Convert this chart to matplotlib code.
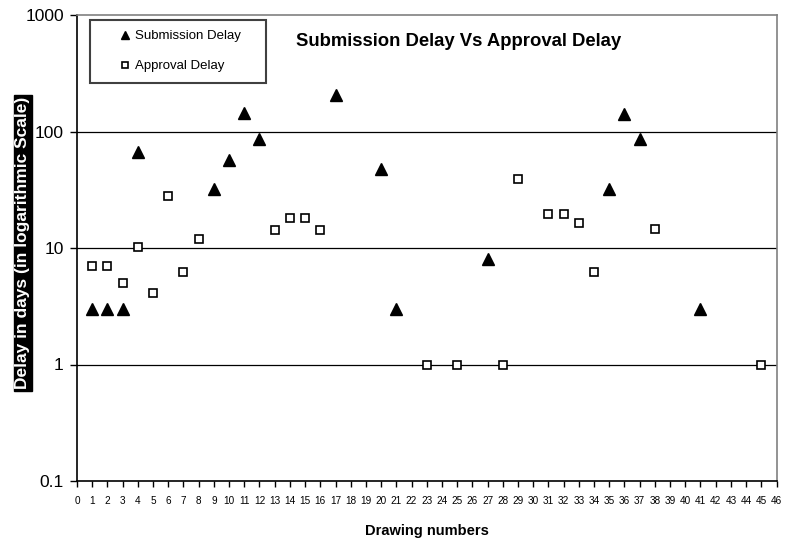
import matplotlib
matplotlib.use("Agg")
import matplotlib.pyplot as plt
from matplotlib.patches import Rectangle
from matplotlib.ticker import FixedLocator, NullLocator, FixedFormatter

plt.rcParams['font.family'] = ['Liberation Sans', 'DejaVu Sans']

sub_x = [1, 2, 3, 4, 9, 10, 11, 12, 17, 20, 21, 27, 35, 36, 37, 41]
sub_y = [3, 3, 3, 67, 32, 57, 143, 86, 206, 48, 3, 8, 32, 141, 86, 3]

app_x = [1, 2, 3, 4, 5, 6, 7, 8, 13, 14, 15, 16, 23, 25, 28, 29, 31, 32, 33, 34, 38, 45]
app_y = [7, 7, 5, 10.3, 4.1, 28, 6.2, 12, 14.3, 18.2, 18.2, 14.3, 1, 1, 1, 39, 19.5, 19.5, 16.5, 6.2, 14.5, 1]

x_ticks = list(range(0, 47))
y_ticks = [0.1, 1, 10, 100, 1000]
y_labels = ["0.1", "1", "10", "100", "1000"]

W, H = 786, 540
L, R, T, B = 77, 776.5, 15, 481

fig = plt.figure(figsize=(W / 100, H / 100), dpi=100)
ax = fig.add_axes([L / W, 1 - B / H, (R - L) / W, (B - T) / H])

def ax_x(px):
    return (px - L) / (R - L)

def ax_y(py):
    return (B - py) / (B - T)

ax.set_yscale('log')
ax.set_xlim(0, 46)
ax.set_ylim(0.1, 1000)

for v in [1, 10, 100]:
    ax.axhline(v, color='black', linewidth=0.9, zorder=1)

ax.plot(sub_x, sub_y, linestyle='none', marker='^', markersize=8,
        color='black', label='Submission Delay', zorder=3)
ax.plot(app_x, app_y, linestyle='none', marker='s', markersize=6.2,
        markerfacecolor='white', markeredgecolor='black', markeredgewidth=1.2,
        label='Approval Delay', zorder=3)

ax.xaxis.set_major_locator(FixedLocator(x_ticks))
ax.set_xticklabels([str(t) for t in x_ticks], fontsize=7.2)
ax.yaxis.set_major_locator(FixedLocator(y_ticks))
ax.yaxis.set_major_formatter(FixedFormatter(y_labels))
ax.yaxis.set_minor_locator(NullLocator())
ax.tick_params(axis='y', labelsize=12.5, length=5, width=1, direction='out', pad=4.5)
ax.tick_params(axis='x', length=4, width=1, direction='out', pad=6.6)

for s in ['top', 'right']:
    ax.spines[s].set_color('#808080')
    ax.spines[s].set_linewidth(1.2)
for s in ['left', 'bottom']:
    ax.spines[s].set_color('black')
    ax.spines[s].set_linewidth(1.2)

ax.set_xlabel('Drawing numbers', fontsize=10.5, fontweight='bold', labelpad=13)
ax.set_ylabel('Delay in days (in logarithmic Scale)', fontsize=12.5, fontweight='bold',
              color='white', va='center',
              bbox=dict(facecolor='black', edgecolor='black', pad=1.0))
ax.yaxis.set_label_coords(ax_x(23), ax_y(243))

ax.text(ax_x(459), ax_y(41), 'Submission Delay Vs Approval Delay', transform=ax.transAxes,
        ha='center', va='center', fontsize=13.3, fontweight='bold')

# legend frame
ax.add_patch(Rectangle((ax_x(90), ax_y(83)), ax_x(266) - ax_x(90), ax_y(20) - ax_y(83),
                       transform=ax.transAxes, facecolor='white', edgecolor='#404040',
                       linewidth=1.5, zorder=4))
leg = ax.legend(loc='upper left', bbox_to_anchor=(ax_x(117), ax_y(30)), fontsize=9.5,
                frameon=False, markerscale=0.75, handlelength=1.2, handletextpad=0.15,
                borderpad=0, labelspacing=1.35, borderaxespad=0)
leg.set_zorder(5)

fig.savefig('out.png', dpi=100)
